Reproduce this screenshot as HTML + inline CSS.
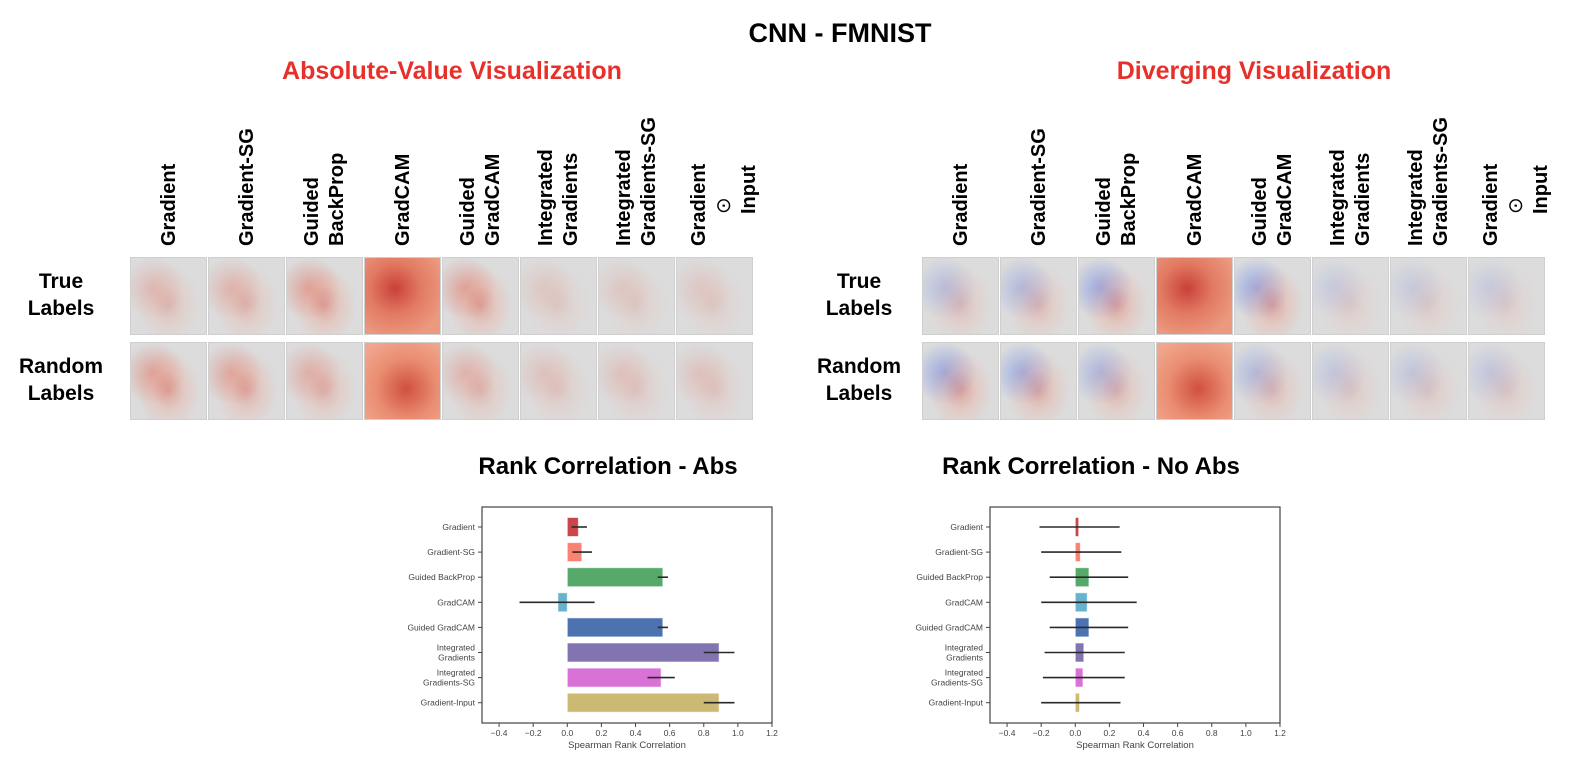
<!DOCTYPE html>
<html><head><meta charset="utf-8"><style>
body{margin:0;width:1580px;height:774px;background:#fff;position:relative;overflow:hidden;font-family:"Liberation Sans",sans-serif}
.t{position:absolute;font-weight:bold;white-space:nowrap}
.red{color:#e8302a;font-size:25px}
.col{position:absolute;font-weight:bold;font-size:20px;line-height:25px;transform:rotate(-90deg);transform-origin:left top;text-align:left;white-space:nowrap}
.rowl{position:absolute;font-weight:bold;font-size:21px;line-height:27px;text-align:center;width:110px}
.tile{position:absolute;width:77px;height:78px;background:#dcdcdc;border:1px solid #cfcfcf;box-sizing:border-box}
</style></head><body>
<div class="t" style="left:640px;width:400px;text-align:center;top:18px;font-size:27px">CNN - FMNIST</div>
<div class="t red" style="left:252px;width:400px;text-align:center;top:57px">Absolute-Value Visualization</div>
<div class="t red" style="left:1054px;width:400px;text-align:center;top:57px">Diverging Visualization</div>
<div class="t" style="left:408px;width:400px;text-align:center;top:453px;font-size:24px">Rank Correlation - Abs</div>
<div class="t" style="left:891px;width:400px;text-align:center;top:453px;font-size:24px">Rank Correlation - No Abs</div>
<div id="grid"></div>
<svg id="charts" width="1580" height="774" style="position:absolute;left:0;top:0"></svg>
<script>
const methods=["Gradient","Gradient-SG","Guided BackProp","GradCAM","Guided GradCAM","Integrated Gradients","Integrated Gradients-SG","Gradient-Input"];
const colLabels=[["Gradient"],["Gradient-SG"],["Guided","BackProp"],["GradCAM"],["Guided","GradCAM"],["Integrated","Gradients"],["Integrated","Gradients-SG"],["Gradient","\u2299","Input"]];
const absVals=[0.065,0.085,0.56,-0.055,0.56,0.89,0.55,0.89];
const absLo=[0.025,0.03,0.53,-0.28,0.53,0.8,0.47,0.8];
const absHi=[0.115,0.145,0.59,0.16,0.59,0.98,0.63,0.98];
const noVals=[0.02,0.03,0.08,0.07,0.08,0.05,0.045,0.025];
const noLo=[-0.21,-0.2,-0.15,-0.2,-0.15,-0.18,-0.19,-0.2];
const noHi=[0.26,0.27,0.31,0.36,0.31,0.29,0.29,0.265];
const xTicks=[-0.4,-0.2,0.0,0.2,0.4,0.6,0.8,1.0,1.2];
const colors=["#c9474c","#f98273","#57a96a","#65b3cc","#4c72b0","#8273b1","#d972d6","#ccb974"];
const yLabels=[["Gradient"],["Gradient-SG"],["Guided BackProp"],["GradCAM"],["Guided GradCAM"],["Integrated","Gradients"],["Integrated","Gradients-SG"],["Gradient-Input"]];

const grid=document.getElementById('grid');
const panels=[{x:130,div:false,key:'abs',lx:-124},{x:922,div:true,key:'div',lx:-118}];
const intens=[[0.35,0.4,0.6,1,0.6,0.2,0.2,0.2],[0.6,0.55,0.45,0.8,0.4,0.25,0.25,0.25]];
panels.forEach(p=>{
  colLabels.forEach((lines,i)=>{
    const d=document.createElement('div');d.className='col';
    
    
    const cx=p.x+i*78+39;
    d.style.left=(cx-lines.length*12.5)+'px';d.style.top='246px';
    d.innerHTML=lines.join('<br>');
    if(lines.length==3){d.style.left=(cx-28)+'px';d.innerHTML='<span style="display:block">Gradient</span><span style="display:block;padding-left:32px;font-weight:normal">\u2299</span><span style="display:block;padding-left:32px">Input</span>';}
    grid.appendChild(d);
  });
  [["True","Labels"],["Random","Labels"]].forEach((l,r)=>{
    const d=document.createElement('div');d.className='rowl';
    
    
    d.style.left=(p.x+p.lx)+'px';d.style.top=(268+r*85)+'px';d.innerHTML=l.join('<br>');grid.appendChild(d);
  });
  for(let r=0;r<2;r++)for(let i=0;i<8;i++){
    const t=document.createElement('div');t.className='tile';
    
    
    t.style.left=(p.x+i*78)+'px';t.style.top=(257+r*85)+'px';
    const a=intens[r][i];
    if(i==3){t.style.background=r==0?'radial-gradient(circle at 40% 40%,#c9403a 0,#e27a62 40%,#eb9a80 80%)':'radial-gradient(circle at 55% 60%,#d0503f 0,#ea8e72 50%,#f0a78e 90%)';}
    else{
      const c1=p.div?`rgba(70,110,235,${a*0.8})`:`rgba(220,80,60,${a*0.7})`;
      const c2=`rgba(220,70,50,${a*0.6})`;
      t.style.background=`radial-gradient(ellipse at 50% 62%,${c2} 0,rgba(240,160,140,${a*0.5}) 30%,rgba(220,220,220,0) 60%),radial-gradient(circle at 30% 40%,${c1} 0,rgba(220,220,220,0) 45%),#dcdcdc`;
    }
    grid.appendChild(t);
  }
});

const svg=document.getElementById('charts');const NS='http://www.w3.org/2000/svg';
function el(tag,attrs,parent){const e=document.createElementNS(NS,tag);for(const k in attrs)e.setAttribute(k,attrs[k]);(parent||svg).appendChild(e);return e;}
function chart(left,vals,lo,hi,name){
  const g=el('g',{});
  
  
  const right=left+290,top=507,bottom=723;
  const xs=v=>left+(v+0.5)/1.7*(right-left);
  const yc=i=>527+i*25.1;
  el('rect',{x:left,y:top,width:right-left,height:bottom-top,fill:'none',stroke:'#444','stroke-width':1.2},g);
  xTicks.forEach(v=>{
    el('line',{x1:xs(v),x2:xs(v),y1:bottom,y2:bottom+4,stroke:'#444'},g);
    const t=el('text',{x:xs(v),y:bottom+13,'font-size':8.5,fill:'#444','text-anchor':'middle','font-family':'Liberation Sans'},g);
    t.textContent=(v<0?'\u2212':'')+Math.abs(v).toFixed(1);
  });
  const xl=el('text',{x:(xs(-0.5)+xs(1.2))/2,y:bottom+25,'font-size':9.5,fill:'#444','text-anchor':'middle','font-family':'Liberation Sans'},g);
  xl.textContent='Spearman Rank Correlation';
  methods.forEach((m,i)=>{
    const y=yc(i);
    el('line',{x1:left-4,x2:left,y1:y,y2:y,stroke:'#444'},g);
    const lines=yLabels[i];
    lines.forEach((ln,k)=>{const t=el('text',{x:left-7,y:y+3+(k-(lines.length-1)/2)*10,'font-size':8.5,fill:'#444','text-anchor':'end','font-family':'Liberation Sans'},g);t.textContent=ln;});
    const x0=xs(0),x1=xs(vals[i]);
    const b=el('rect',{x:Math.min(x0,x1),y:y-9.5,width:Math.abs(x1-x0),height:19,fill:colors[i],stroke:'#fff','stroke-opacity':0.6,'stroke-width':1},g);
    
    
    el('line',{x1:xs(lo[i]),x2:xs(hi[i]),y1:y,y2:y,stroke:'#2a2a2a','stroke-width':1.6},g);
  });
}
chart(482,absVals,absLo,absHi,'abs-rank-chart');
chart(990,noVals,noLo,noHi,'noabs-rank-chart');
</script>
</body></html>
